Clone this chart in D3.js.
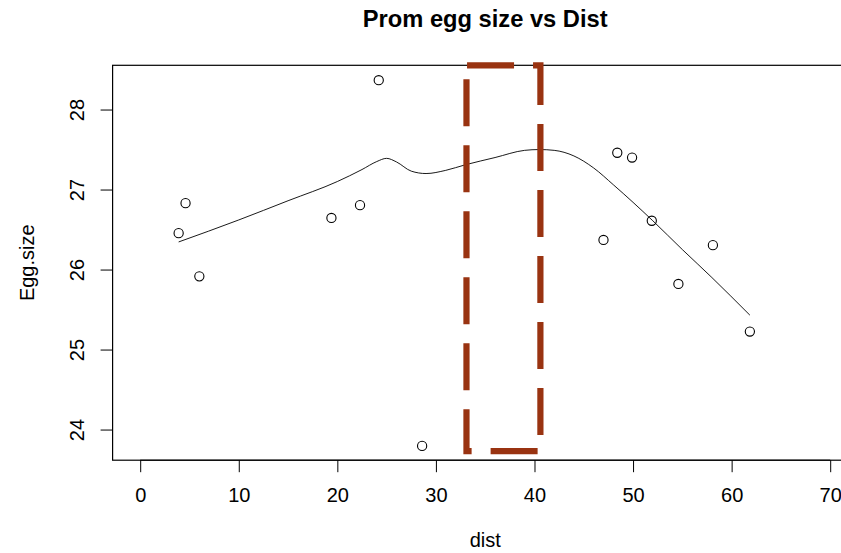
<!DOCTYPE html>
<meta charset="utf-8">
<style>
  body { margin: 0; background: #fff; }
  svg text { font-family: "Liberation Sans", Arial, sans-serif; fill: #000; }
  .pts circle { fill: none; stroke: #000; stroke-width: 1.1px; }
</style>
<svg width="841" height="553"></svg>
<script src="https://d3js.org/d3.v7.min.js"></script>
<script>
  // observations
  var dist = [3.9, 4.6, 6.0, 19.4, 22.3, 24.2, 28.6, 47.0, 48.4, 49.9, 51.9, 54.6, 58.1, 61.85];
  var eggSize = [26.455, 26.83, 25.915, 26.645, 26.805, 28.367, 23.796, 26.37, 27.46, 27.40, 26.61, 25.82, 26.305, 25.225];

  // loess smooth
  var smoothX = [3.9, 10, 15, 20, 22.5, 24, 25, 26, 27.5, 29, 31, 33, 36, 39, 40.5, 42, 44, 46, 48, 50, 52, 55, 58, 61.85];
  var smoothY = [26.345, 26.62, 26.86, 27.10, 27.25, 27.35, 27.39, 27.345, 27.23, 27.20, 27.24, 27.31, 27.40, 27.49, 27.50, 27.49, 27.42, 27.27, 27.06, 26.84, 26.61, 26.25, 25.90, 25.43];

  // highlighted band
  var band = { x0: 33.1, x1: 40.6, y0: 23.73, y1: 28.553 };

  var xTicks = [0, 10, 20, 30, 40, 50, 60, 70];
  var yTicks = [24, 25, 26, 27, 28];

  var svg = d3.select("svg");
  var pLeft = 112.6, pRight = 857.8, pTop = 65.3, pBottom = 460.2;

  var x = d3.scaleLinear().domain([-2.8, 72.8]).range([pLeft, pRight]);
  var y = d3.scaleLinear().domain([23.617, 28.553]).range([pBottom, pTop]);

  // title
  svg.append("text")
    .attr("x", (pLeft + pRight) / 2).attr("y", 27)
    .attr("text-anchor", "middle")
    .style("font-weight", "bold").style("font-size", "23.7px")
    .text("Prom egg size vs Dist");

  // x axis
  var xa = svg.append("g").attr("transform", "translate(0," + pBottom + ")")
    .call(d3.axisBottom(x).tickValues(xTicks).tickFormat(d3.format("d")).tickSize(12).tickSizeOuter(0));
  xa.select(".domain").attr("d", "M" + x(0) + ",0H" + x(70)).attr("stroke", "#000");
  xa.selectAll(".tick text").attr("dy", 0).attr("y", 42)
    .style("font-size", "20px").style("font-family", "Liberation Sans, Arial, sans-serif");

  // y axis
  var ya = svg.append("g").attr("transform", "translate(" + pLeft + ",0)")
    .call(d3.axisLeft(y).tickValues(yTicks).tickFormat(d3.format("d")).tickSize(12).tickSizeOuter(0));
  ya.select(".domain").remove();
  ya.selectAll(".tick text")
    .attr("x", 0).attr("dy", 0)
    .attr("text-anchor", "middle")
    .attr("transform", "translate(-29,0) rotate(-90)")
    .style("font-size", "20px").style("font-family", "Liberation Sans, Arial, sans-serif");

  // axis titles
  svg.append("text").attr("x", (pLeft + pRight) / 2).attr("y", 547)
    .attr("text-anchor", "middle").style("font-size", "20px").text("dist");
  svg.append("text").attr("transform", "translate(34," + (pTop + pBottom) / 2 + ") rotate(-90)")
    .attr("text-anchor", "middle").style("font-size", "20px").text("Egg.size");

  // box
  svg.append("rect").attr("x", pLeft).attr("y", pTop)
    .attr("width", pRight - pLeft).attr("height", pBottom - pTop)
    .attr("fill", "none").attr("stroke", "#000").attr("stroke-width", 1.2);

  // smooth line
  var line = d3.line().x(function(d) { return x(d[0]); }).y(function(d) { return y(d[1]); })
    .curve(d3.curveMonotoneX);
  svg.append("path")
    .datum(d3.zip(smoothX, smoothY))
    .attr("d", line)
    .attr("fill", "none").attr("stroke", "#000").attr("stroke-width", 0.9);

  // points
  svg.append("g").attr("class", "pts").selectAll("circle")
    .data(d3.zip(dist, eggSize))
    .enter().append("circle")
    .attr("cx", function(d) { return x(d[0]); })
    .attr("cy", function(d) { return y(d[1]); })
    .attr("r", 4.6);

  // dashed band
  var bx0 = x(band.x0), bx1 = x(band.x1), by0 = y(band.y0), by1 = y(band.y1);
  svg.append("path")
    .attr("d", "M" + bx0 + "," + by1 + "V" + by0 + "H" + bx1 + "V" + by1 + "Z")
    .attr("fill", "none").attr("stroke", "#993311").attr("stroke-width", 6.2)
    .attr("stroke-dasharray", "47,19").attr("stroke-dashoffset", 52)
    .attr("stroke-linecap", "butt");
</script>
